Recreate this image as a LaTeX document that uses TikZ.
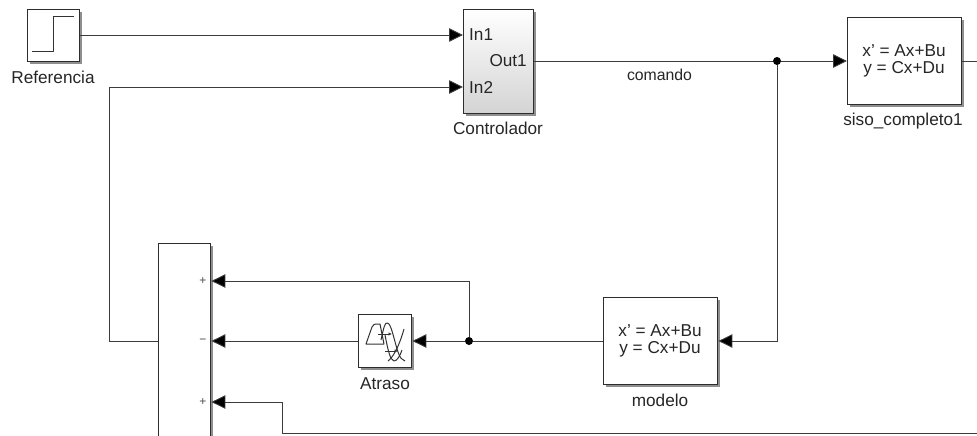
\documentclass[tikz,border=0pt]{standalone}
\usepackage{fontspec}
\setmainfont{Liberation Sans}
\usetikzlibrary{arrows.meta,shadows}
\definecolor{wirec}{RGB}{60,60,60}
\definecolor{edgec}{RGB}{45,45,45}
\tikzset{
  x=1pt,y=-1pt,
  block/.style={draw=edgec,line width=1.4pt,fill=white,rectangle,inner sep=0pt,anchor=north west,
    drop shadow={shadow xshift=2pt,shadow yshift=-2pt,fill=black!55,opacity=.8}},
  lbl/.style={font=\fontsize{17.2}{20}\selectfont,text=black!85,inner sep=0pt},
  small/.style={font=\fontsize{17.2}{17}\selectfont,text=black!85,inner sep=0pt,align=center},
  sign/.style={font=\fontsize{12}{12}\selectfont,text=black!70,inner sep=0pt},
  wire/.style={draw=wirec,line width=.9pt},
  sig/.style={wire,-{Triangle[length=14pt,width=13.5pt,fill=black]}},
  dot/.style={circle,fill=black,inner sep=0pt,minimum size=8pt},
  icon/.style={draw=black!80,line width=1pt,line join=round}
}
\begin{document}
\begin{tikzpicture}
\useasboundingbox (0,0) rectangle (977,436);
% blocks
\node[block,minimum width=52pt,minimum height=52pt] (ref) at (27,9) {};
\node[block,minimum width=70pt,minimum height=104pt,top color=white,bottom color=black!17] (ctrl) at (463,9) {};
\node[block,minimum width=114pt,minimum height=87pt] (siso) at (847,17) {};
\node[block,minimum width=114pt,minimum height=87pt] (mod) at (603,297) {};
\node[block,minimum width=53pt,minimum height=53pt] (atr) at (358,314) {};
% mux runs off the bottom of the picture
\begin{scope}
\clip (140,230) rectangle (230,436);
\node[block,minimum width=52pt,minimum height=240pt] (mux) at (158,243) {};
\end{scope}
% labels
\node[lbl] (reflbl) at (53,77) {Referencia};
\node[lbl] (ctrllbl) at (498,128) {Controlador};
\node[lbl] (sisolbl) at (903,121) {siso\_completo1};
\node[lbl] (modlbl) at (660,400) {modelo};
\node[lbl] (atrlbl) at (385,384) {Atraso};
\node[lbl,font=\fontsize{15.8}{18}\selectfont] (cmdlbl) at (659.5,75) {comando};
\node[lbl,anchor=west] (in1) at (469,35) {In1};
\node[lbl,anchor=west] (in2) at (469,87.5) {In2};
\node[lbl,anchor=east] (out1) at (527,61) {Out1};
\node[small] (sisotxt) at (904,61) {x' = Ax+Bu\\y = Cx+Du};
\node[small] (modtxt) at (660,341) {x' = Ax+Bu\\y = Cx+Du};
\node[sign] (s1) at (203,281) {+};
\node[sign] (s2) at (203,341) {\textminus};
\node[sign] (s3) at (203,402) {+};
% icons
\draw[icon] (32,52) -- (53,52) -- (53,17) -- (74,17);
\draw[icon] (366,344) -- (372,327) .. controls (373,324) and (375,324) .. (377,324) -- (380,324) -- (384,344) -- cycle;
\draw[icon] (381,340) .. controls (384,326) and (385,323) .. (387,323) .. controls (391,322) and (394,340) .. (398,352) .. controls (400,358) and (402,360) .. (405,361);
\draw[icon] (388,361) .. controls (392,358) and (398,350) .. (404,329);
\draw[icon] (385,335) .. controls (388,350) and (390,360) .. (394,361) .. controls (397,361) and (400,356) .. (402,350);
\draw[icon,-{Latex[length=3.5pt,width=3.5pt]}] (378,334) -- (392,334);
\draw[icon,-{Latex[length=3.5pt,width=3.5pt]}] (385,351) -- (398,351);
% junctions and corners
\coordinate (c1) at (109,341);
\coordinate (c2) at (109,87);
\coordinate (c3) at (469,281);
\coordinate (c4) at (282,402);
\coordinate (c5) at (282,433);
\coordinate (fb) at (977,433);
\coordinate (sisoout) at (977,61);
\node[dot] (j1) at (777,61) {};
\node[dot] (j2) at (469,341) {};
% connectors
\draw[sig] (ref.east |- 0,35) -- (ctrl.west |- 0,35);
\draw[sig] (mux.west |- 0,341) -- (c1) -- (c2) -- (ctrl.west |- c2);
\draw[wire] (ctrl.east |- 0,61) -- (j1);
\draw[sig] (j1) -- (siso.west |- j1);
\draw[wire] (siso.east |- j1) -- (sisoout);
\draw[sig] (j1) -- (j1 |- 0,341) -- (mod.east |- 0,341);
\draw[wire] (mod.west |- j2) -- (j2);
\draw[sig] (j2) -- (atr.east |- j2);
\draw[sig] (j2) -- (c3) -- (mux.east |- c3);
\draw[sig] (atr.west |- j2) -- (mux.east |- j2);
\draw[sig] (fb) -- (c5) -- (c4) -- (mux.east |- c4);
\end{tikzpicture}
\end{document}
